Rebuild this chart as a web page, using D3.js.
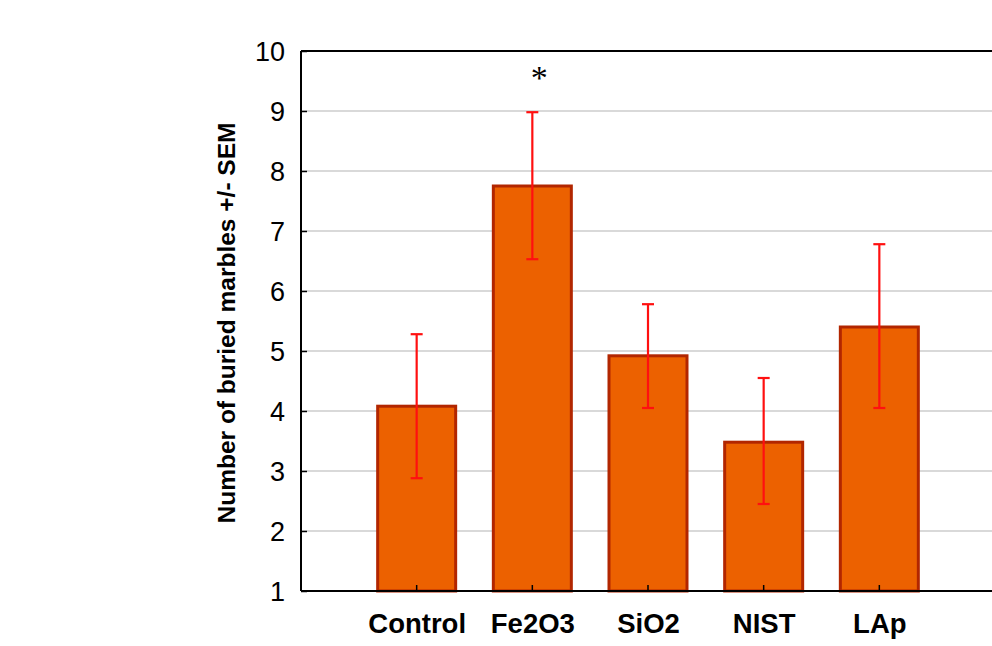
<!DOCTYPE html>
<html><head><meta charset="utf-8">
<script src="https://cdn.jsdelivr.net/npm/d3@7"></script>
<style>html,body{margin:0;padding:0;background:#fff;}svg{display:block;}</style>
</head><body>
<svg id="chart" width="992" height="646"></svg>
<script>
const categories = ["Control", "Fe2O3", "SiO2", "NIST", "LAp"];
const means = [4.08, 7.75, 4.92, 3.48, 5.40];
const errUpper = [5.28, 8.98, 5.78, 4.55, 6.78];
const errLower = [2.88, 6.53, 4.05, 2.45, 4.05];
const significance = ["", "*", "", "", ""];
const yTicks = [1, 2, 3, 4, 5, 6, 7, 8, 9, 10];
const yTitle = "Number of buried marbles +/- SEM";

const svg = d3.select("#chart");
const plotL = 301, plotR = 995, plotT = 51, plotB = 591;

const x = d3.scalePoint().domain(categories).range([plotL, plotR]).padding(1);
const y = d3.scaleLinear().domain([1, 10]).range([plotB, plotT]);
const barW = 81;

// gridlines
svg.append("g").selectAll("line").data(yTicks.filter(t => t > 1 && t < 10)).join("line")
  .attr("x1", plotL).attr("x2", 992)
  .attr("y1", d => y(d)).attr("y2", d => y(d))
  .attr("stroke", "#d9d9d9").attr("stroke-width", 2);

// top border
svg.append("line").attr("x1", plotL).attr("x2", 992).attr("y1", plotT).attr("y2", plotT)
  .attr("stroke", "#000").attr("stroke-width", 2);

// bars
svg.append("g").selectAll("rect").data(categories).join("rect")
  .attr("x", d => x(d) - barW / 2 + 1.5)
  .attr("width", barW - 3)
  .attr("y", (d, i) => y(means[i]))
  .attr("height", (d, i) => y(1) - y(means[i]))
  .attr("fill", "#ec6100")
  .attr("stroke", "#b22600")
  .attr("stroke-width", 3);

// x ticks (inside)
svg.append("g").selectAll("line").data(categories).join("line")
  .attr("x1", d => x(d)).attr("x2", d => x(d))
  .attr("y1", plotB).attr("y2", plotB - 6)
  .attr("stroke", "#000").attr("stroke-width", 1.5);

// error bars
const eb = svg.append("g").attr("stroke", "#ff1010").attr("stroke-width", 2.2);
categories.forEach((c, i) => {
  const cx = x(c);
  eb.append("line").attr("x1", cx).attr("x2", cx).attr("y1", y(errUpper[i])).attr("y2", y(errLower[i]));
  eb.append("line").attr("x1", cx - 6).attr("x2", cx + 6).attr("y1", y(errUpper[i])).attr("y2", y(errUpper[i]));
  eb.append("line").attr("x1", cx - 6).attr("x2", cx + 6).attr("y1", y(errLower[i])).attr("y2", y(errLower[i]));
});

// significance
svg.append("g").selectAll("text").data(categories).join("text")
  .attr("x", d => x(d) + 7)
  .attr("y", (d, i) => y(errUpper[i]) - 23)
  .attr("text-anchor", "middle")
  .attr("font-family", "Liberation Serif, serif")
  .attr("font-size", 34)
  .attr("fill", "#000")
  .text((d, i) => significance[i]);

// y axis
const yAxis = d3.axisLeft(y).tickValues(yTicks).tickSize(-6).tickPadding(16).tickFormat(d3.format("d"));
const gy = svg.append("g").attr("transform", `translate(${plotL},0)`).call(yAxis);
gy.select(".domain").attr("stroke", "#000").attr("stroke-width", 2).attr("d", `M0,${plotB}V${plotT}`);
gy.selectAll(".tick line").attr("stroke", "#000").attr("stroke-width", 1.5);
gy.selectAll(".tick text").attr("font-family", "Liberation Sans, Arial, sans-serif")
  .attr("font-size", 27).attr("fill", "#000").attr("dy", "0.36em");

// x axis
const xAxis = d3.axisBottom(x).tickSize(0).tickPadding(22);
const gx = svg.append("g").attr("transform", `translate(0,${plotB})`).call(xAxis);
gx.select(".domain").attr("stroke", "#000").attr("stroke-width", 2).attr("d", `M${plotL},0H992`);
gx.selectAll(".tick text").attr("font-family", "Liberation Sans, Arial, sans-serif")
  .attr("font-size", 27.5).attr("font-weight", "bold").attr("fill", "#000");

// y title
svg.append("text")
  .attr("transform", `translate(235,${(plotT + plotB) / 2 + 2}) rotate(-90)`)
  .attr("text-anchor", "middle")
  .attr("font-family", "Liberation Sans, Arial, sans-serif")
  .attr("font-size", 24.5).attr("font-weight", "bold").attr("fill", "#000")
  .text(yTitle);
</script>
</body></html>
